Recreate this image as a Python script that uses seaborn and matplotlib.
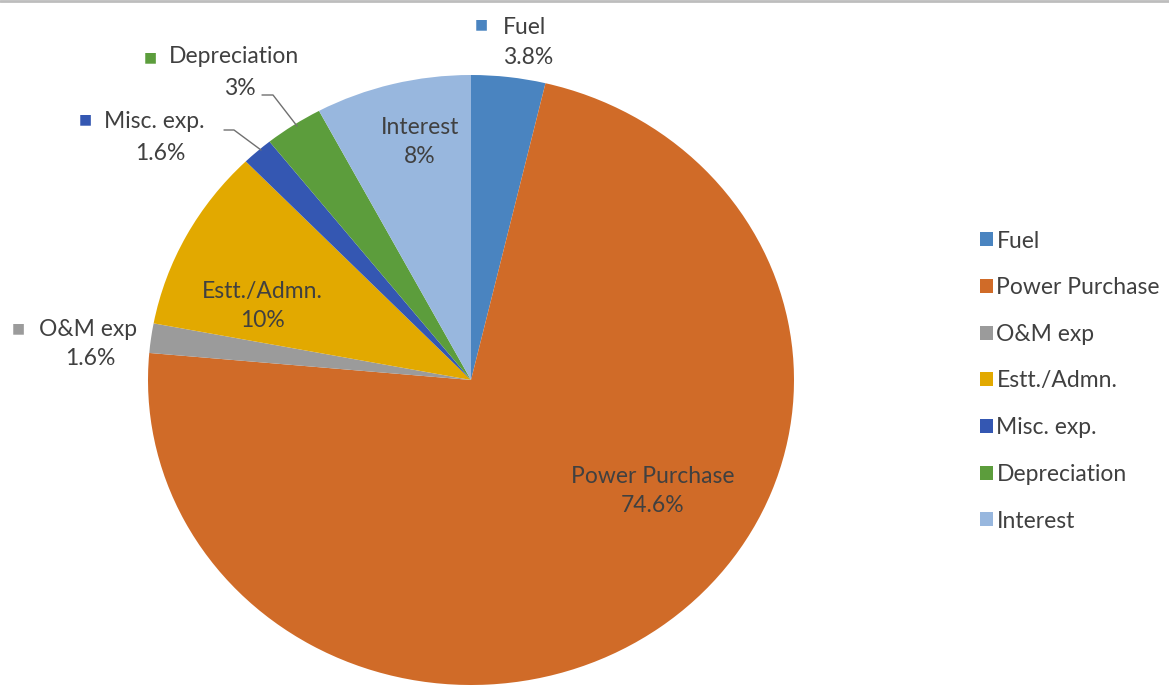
import matplotlib
matplotlib.use("Agg")
import matplotlib.pyplot as plt
import seaborn as sns
from matplotlib.patches import Patch

# --- data ---
categories = ['Fuel', 'Power Purchase', 'O&M exp', 'Estt./Admn.', 'Misc. exp.', 'Depreciation', 'Interest']
shares = [3.8, 74.6, 1.6, 10, 1.6, 3, 8]
pct_labels = ['3.8%', '74.6%', '1.6%', '10%', '1.6%', '3%', '8%']
colors = ['#4a84c0', '#d06b28', '#9b9b9b', '#e2a900', '#3457b2', '#5c9d3c', '#98b7de']

sns.set_theme(style='white')
plt.rcParams['font.family'] = ['Lato', 'DejaVu Sans']
TXT = '#404040'

W, H = 1169, 686
fig = plt.figure(figsize=(W / 100, H / 100), dpi=100)
# pie box in image pixels: x 148..794, y 75..685
ax = fig.add_axes([148 / W, 1 - 685 / H, 646 / W, 610 / H])
ax.pie(shares, colors=colors, startangle=90, counterclock=False,
       wedgeprops=dict(linewidth=0))
ax.set_aspect('auto')
ax.set_xlim(-1, 1)
ax.set_ylim(-1, 1)
ax.axis('off')


def px(x, y):
    # image pixel -> pie data coords
    return (x - 471) / 323, (380 - y) / 305


fs = 16.5

# labels inside the slices
inner = {'Interest': (420, 142), 'Estt./Admn.': (262, 306), 'Power Purchase': (653, 491)}
for name, (x, y) in inner.items():
    i = categories.index(name)
    ax.text(*px(x, y), f'{name}\n{pct_labels[i]}', ha='center', va='center',
            fontsize=fs, color=TXT, linespacing=1.45, clip_on=False)

# labels outside with a colour key: key pos, name start, pct centre
outer = {
    'Fuel': ((481, 24), (503, 28), (528, 58)),
    'Depreciation': ((150, 57), (169, 57), (240, 89)),
    'Misc. exp.': ((85, 119), (104, 122), (160, 154)),
    'O&M exp': ((18, 328), (39, 330), (90, 359)),
}
for name, (key, nm, pc) in outer.items():
    i = categories.index(name)
    ax.text(*px(*key), '■', ha='center', va='center', fontsize=10,
            color=colors[i], family='DejaVu Sans', clip_on=False)
    ax.text(*px(*nm), name, ha='left', va='center', fontsize=fs, color=TXT, clip_on=False)
    ax.text(*px(*pc), pct_labels[i], ha='center', va='center', fontsize=fs, color=TXT, clip_on=False)

# leader lines
for pts in ([(262, 95), (273, 95), (297, 126)], [(224, 130), (234, 130), (261, 150)]):
    xs, ys = zip(*[px(*p) for p in pts])
    ax.plot(xs, ys, color='#707070', lw=1, clip_on=False)

handles = [Patch(facecolor=c, edgecolor='none') for c in colors]
fig.legend(handles, categories, loc='center left', bbox_to_anchor=(969 / W, 1 - 381 / H),
           frameon=False, fontsize=fs, labelcolor=TXT, handlelength=0.55, handleheight=0.55,
           handletextpad=0.15, labelspacing=1.12, borderpad=0)

# thin grey rule at the top edge
fig.add_artist(plt.Line2D([0, 1], [1 - 1 / H, 1 - 1 / H], color='#bdbdbd', lw=2))

fig.savefig('out.png', dpi=100)
